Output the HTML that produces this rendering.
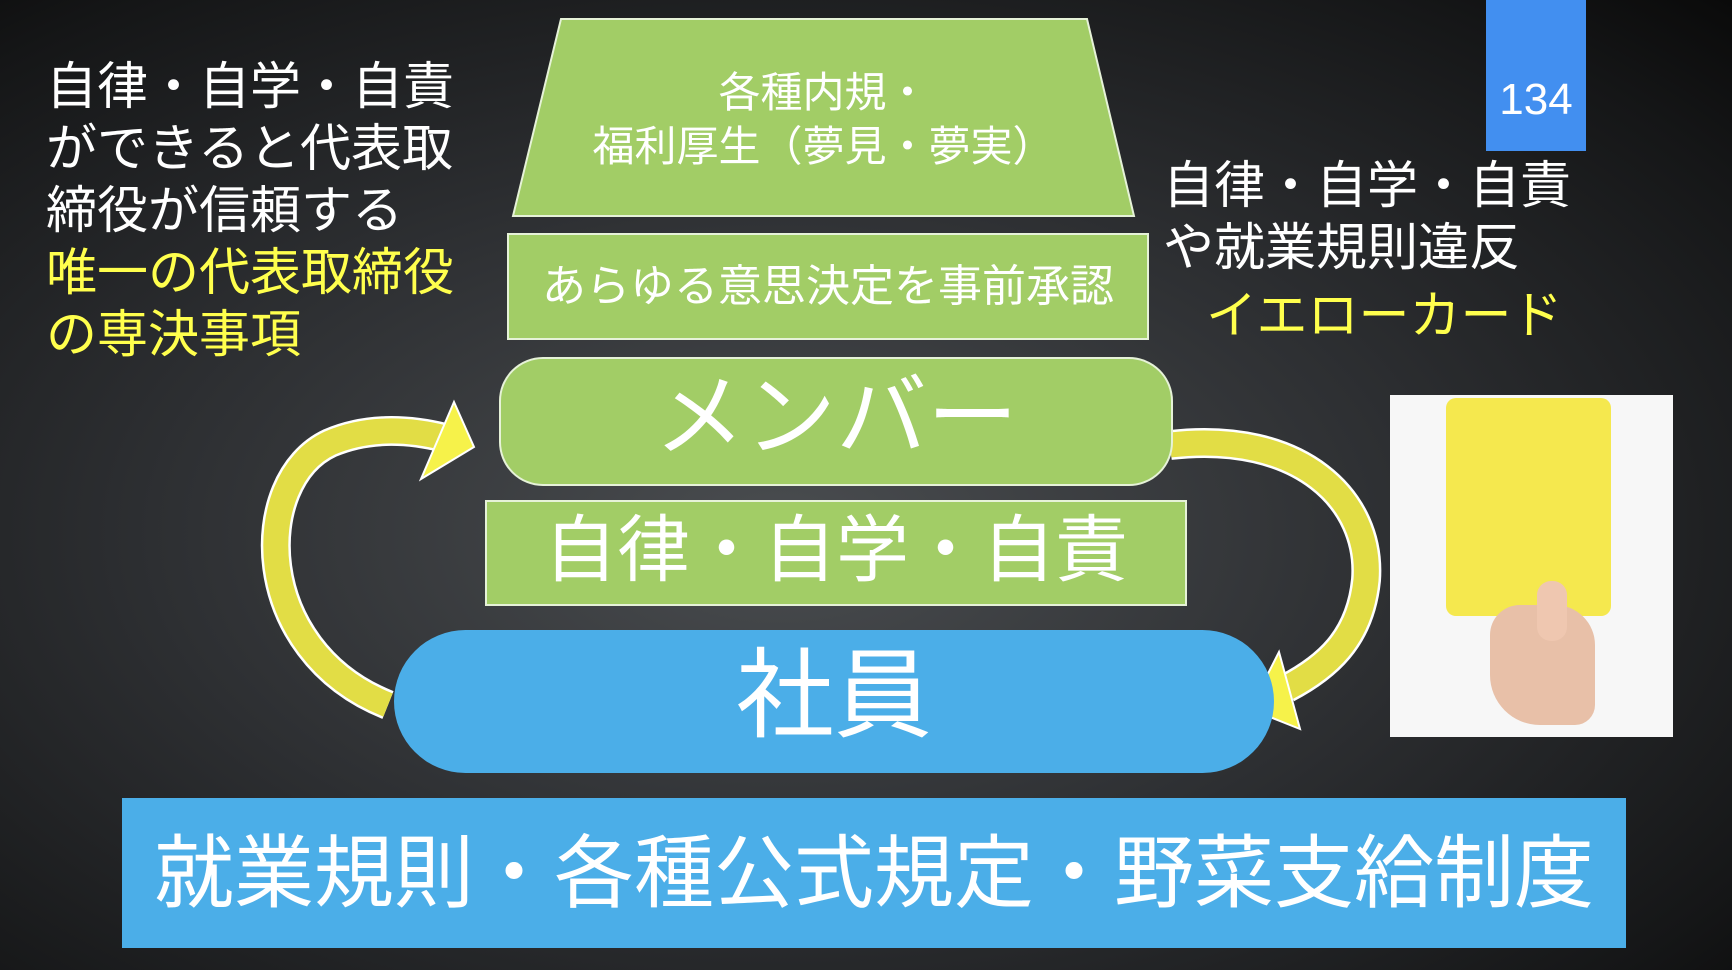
<!DOCTYPE html>
<html><head><meta charset="utf-8"><style>
body{margin:0}
#s{position:relative;width:1732px;height:970px;overflow:hidden;background:radial-gradient(ellipse at 45% 55%,#4a4d50 0%,#2e3033 45%,#151617 85%,#0a0a0a 100%);font-family:"Liberation Sans","Noto Sans CJK JP",sans-serif;color:#fff}
.t{position:absolute;white-space:nowrap;line-height:1}
.c{position:absolute;display:flex;align-items:center;justify-content:center;color:#fff;box-sizing:border-box;white-space:nowrap}
.g{background:#a2cd66;border:2px solid #e6f2d8}
</style></head><body><div id="s">
<svg width="1732" height="970" style="position:absolute;left:0;top:0">
<polygon points="561,19 1087,19 1134,216 513,216" fill="#a2cd66" stroke="#e6f2d8" stroke-width="2"/>
<path d="M388,705 C250,650 250,480 330,443 C365,428 405,428 445,438" fill="none" stroke="#fff" stroke-width="30"/>
<path d="M388,705 C250,650 250,480 330,443 C365,428 405,428 445,438" fill="none" stroke="#e2dd45" stroke-width="25"/>
<polygon points="454,402 474,447 421,479" fill="#f6f24a" stroke="#fff" stroke-width="2"/>
<path d="M1170,445 C1300,430 1372,500 1366,580 C1360,640 1325,668 1287,688" fill="none" stroke="#fff" stroke-width="30"/>
<path d="M1170,445 C1300,430 1372,500 1366,580 C1360,640 1325,668 1287,688" fill="none" stroke="#e2dd45" stroke-width="25"/>
<polygon points="1279,652 1250,709 1300,729" fill="#f6f24a" stroke="#fff" stroke-width="2"/>
</svg>
<div class="t" style="left:46px;top:56px;font-size:51px;line-height:62px">自律・自学・自責<br>ができると代表取<br>締役が信頼する<br><span style="color:#ffff4d">唯一の代表取締役<br>の専決事項</span></div>
<div class="t" style="left:513px;top:66px;width:621px;text-align:center;font-size:42px;line-height:54px">各種内規・<br>福利厚生（夢見・夢実）</div>
<div class="c g" style="left:507px;top:233px;width:642px;height:107px;font-size:44px;padding-bottom:10px">あらゆる意思決定を事前承認</div>
<div class="c g" style="left:499px;top:357px;width:674px;height:129px;border-radius:44px;font-size:91px;padding-bottom:26px">メンバー</div>
<div class="c g" style="left:485px;top:500px;width:702px;height:106px;font-size:73px;padding-bottom:18px">自律・自学・自責</div>
<div class="c" style="left:394px;top:630px;width:880px;height:143px;border-radius:72px;background:#4baee8;font-size:98px;padding-bottom:30px">社員</div>
<div class="c" style="left:122px;top:798px;width:1504px;height:150px;background:#4baee8;font-size:80px;padding-bottom:12px">就業規則・各種公式規定・野菜支給制度</div>
<div class="t" style="left:1163px;top:155px;font-size:51px;line-height:62px">自律・自学・自責<br>や就業規則違反</div>
<div class="t" style="left:1206px;top:290px;font-size:51px;color:#ffff4d">イエローカード</div>
<div class="c" style="left:1486px;top:0;width:100px;height:151px;background:#428ff0;font-size:44px;align-items:flex-end;padding-bottom:26px">134</div>
<div style="position:absolute;left:1390px;top:395px;width:283px;height:342px;background:#f7f7f7">
<div style="position:absolute;left:56px;top:3px;width:165px;height:218px;background:#f5e84e;border-radius:10px"></div>
<div style="position:absolute;left:100px;top:210px;width:105px;height:120px;background:#e8c0a8;border-radius:30px 40px 20px 50px"></div>
<div style="position:absolute;left:147px;top:186px;width:30px;height:60px;background:#efc7b0;border-radius:14px"></div>
</div>
</div></body></html>
